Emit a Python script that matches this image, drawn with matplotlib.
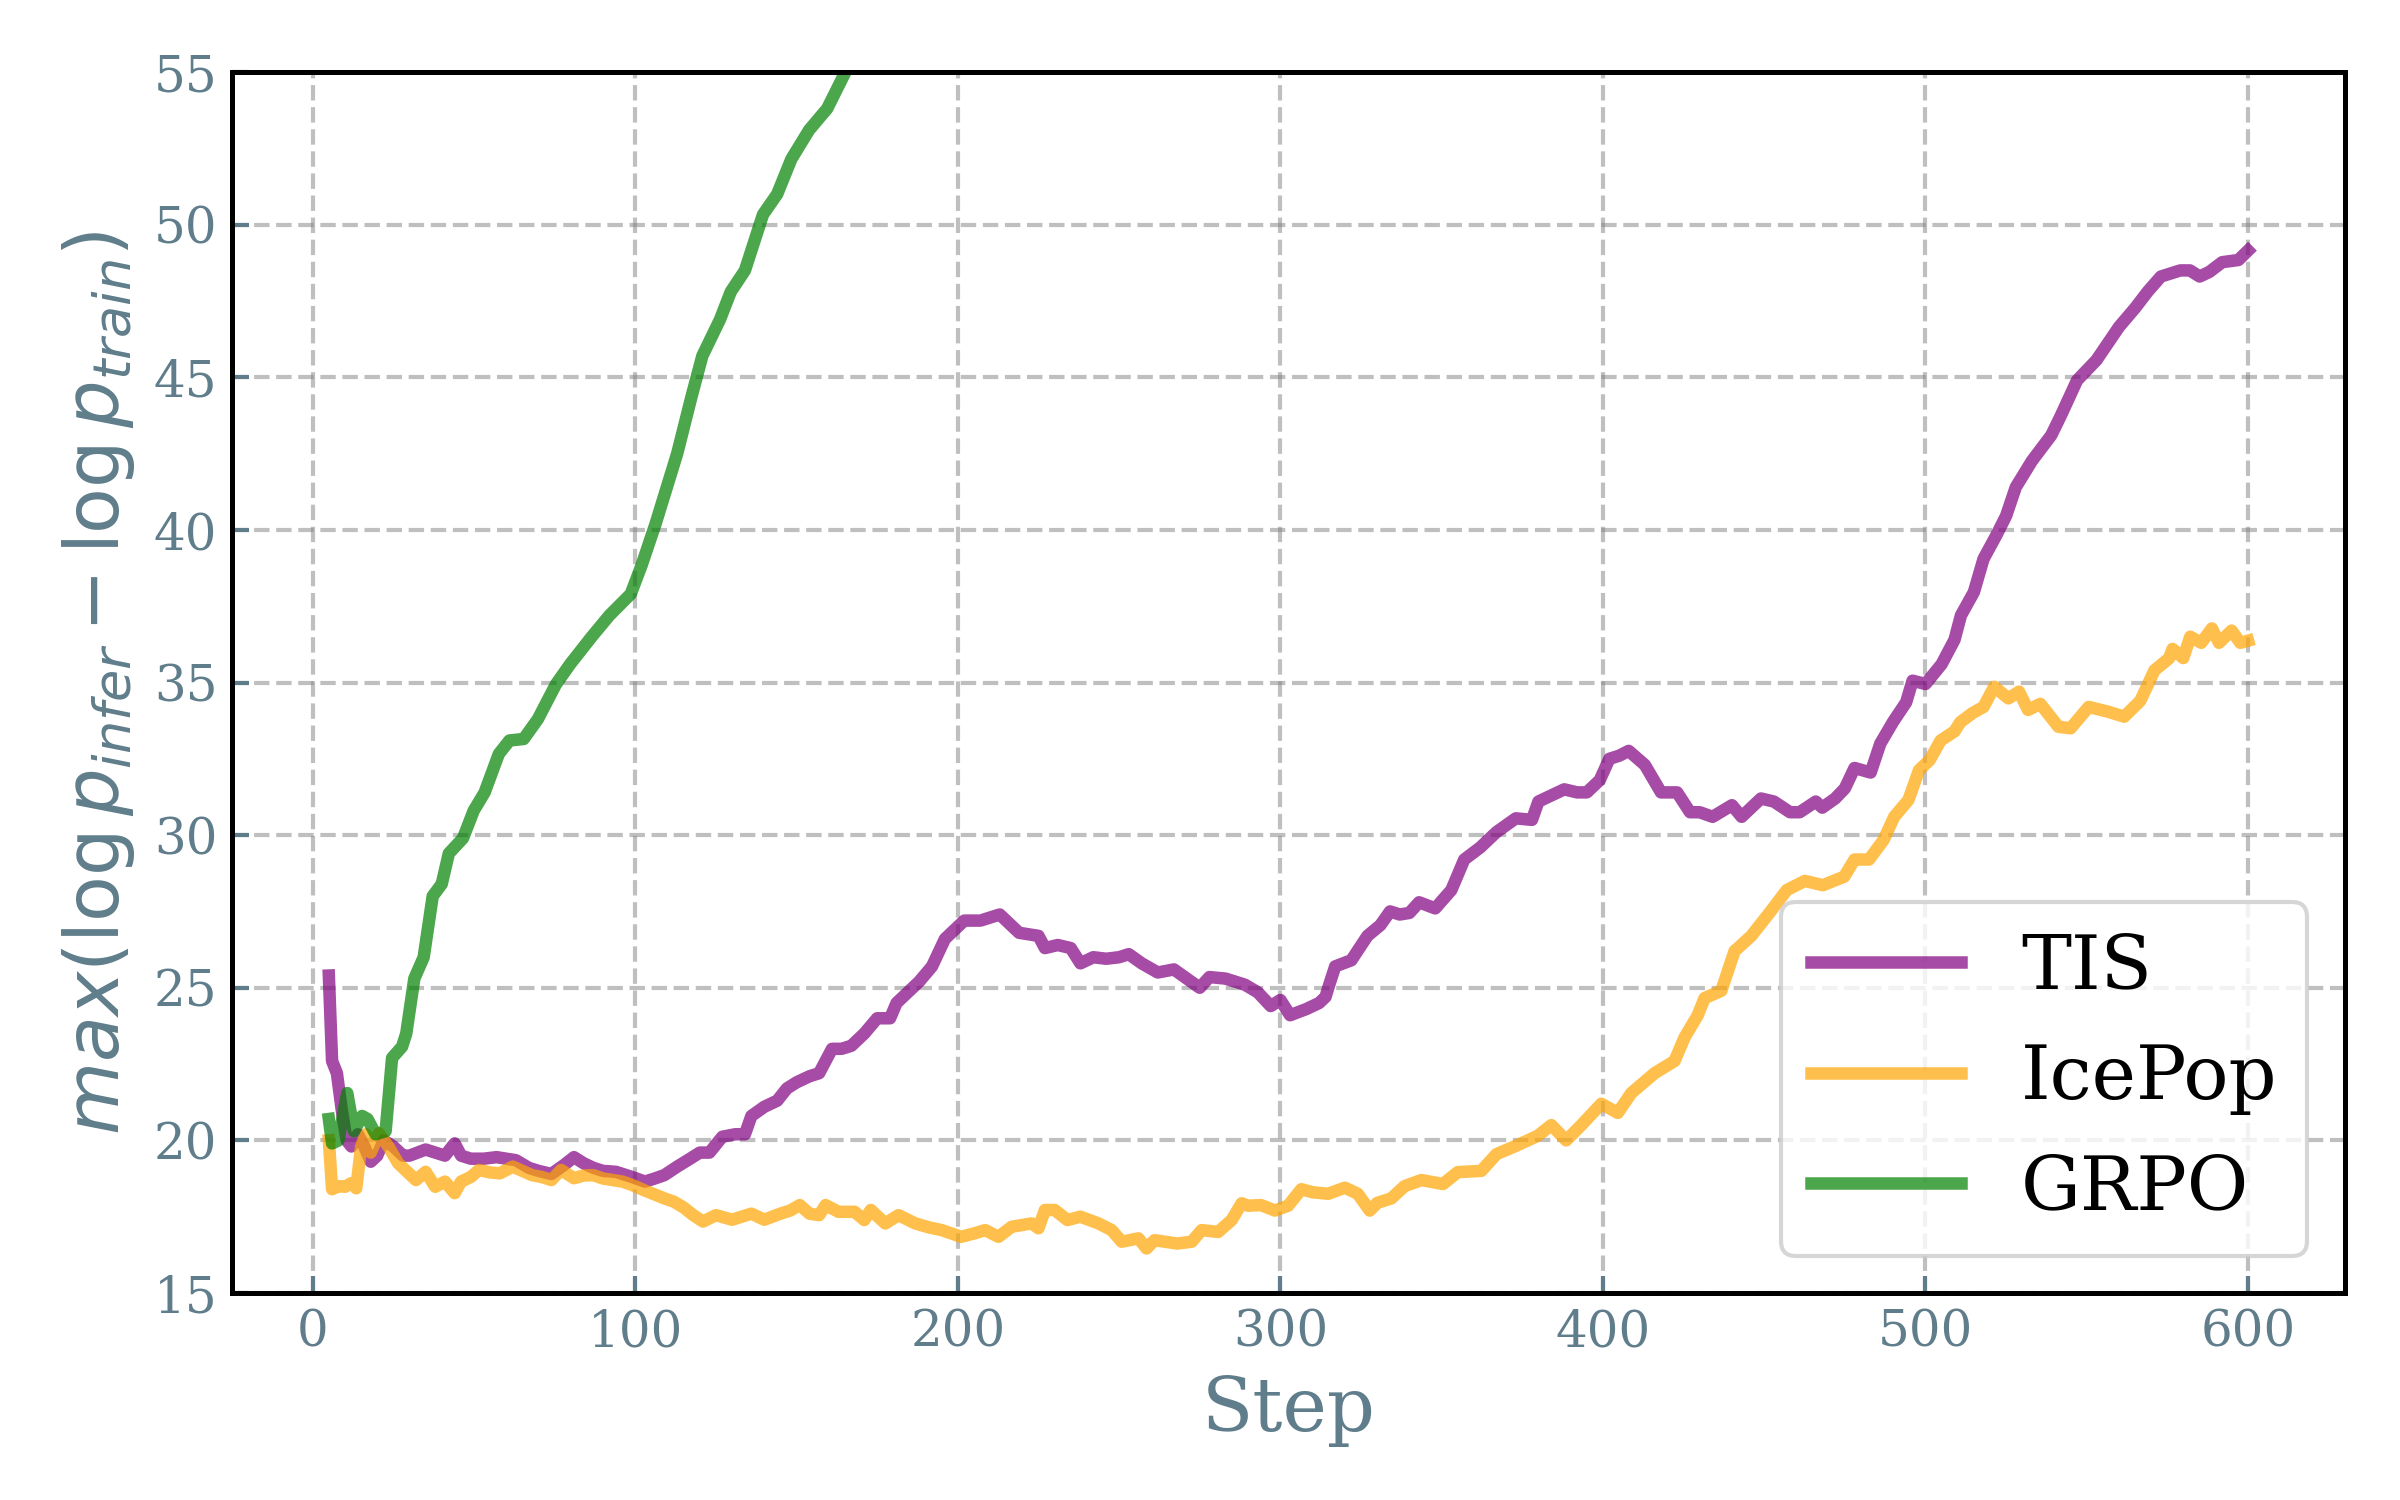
import matplotlib
matplotlib.use("Agg")
import matplotlib.pyplot as plt

# ---------------- data ----------------
tis_steps = [5, 6, 7.5, 9, 10.5, 12, 14, 16, 18, 20, 22, 25, 28, 30, 35, 38, 41, 44, 46, 49,
             53, 57, 60, 63, 67, 70, 74, 78, 81, 84, 87, 90, 94, 99, 103, 106, 109, 113, 117, 120,
             123, 127, 131, 134, 136, 140, 144, 147, 150, 154, 157, 159, 161, 164, 167, 171, 175, 179, 181, 185,
             188, 192, 196, 199, 202, 207, 210, 213, 216, 219, 225, 227, 231, 235, 238, 242, 246, 250, 253, 257,
             262, 267, 271, 275, 278, 283, 289, 293, 297, 300, 303, 308, 312, 314, 315, 317, 322, 327, 331, 334,
             337, 340, 343, 348, 353, 357, 362, 367, 373, 378, 380, 384, 388, 392, 395, 399, 402, 405, 408, 413,
             418, 423, 427, 430, 434, 440, 443, 449, 453, 458, 461, 466, 468, 472, 475, 478, 483, 486, 490, 494,
             496, 500, 505, 509, 511, 515, 518, 522, 525, 528, 533, 539, 542, 547, 553, 560, 565, 569, 573, 579,
             582, 585, 588, 592, 597, 600]
tis_vals = [25.4, 22.6, 22.2, 21.0, 20.0, 19.8, 20.2, 19.8, 19.3, 19.5, 20.0, 19.8, 19.5, 19.5, 19.7, 19.6, 19.5, 19.9, 19.5, 19.4,
            19.4, 19.45, 19.4, 19.35, 19.1, 19.0, 18.9, 19.2, 19.45, 19.25, 19.1, 19.0, 18.97, 18.8, 18.65, 18.75, 18.86, 19.14, 19.4, 19.6,
            19.6, 20.12, 20.2, 20.2, 20.8, 21.1, 21.3, 21.7, 21.9, 22.1, 22.2, 22.6, 23.0, 23.0, 23.1, 23.5, 24.0, 24.0, 24.5, 24.9,
            25.2, 25.7, 26.6, 26.9, 27.2, 27.2, 27.3, 27.4, 27.1, 26.8, 26.7, 26.3, 26.4, 26.3, 25.8, 26.0, 25.95, 26.0, 26.1, 25.8,
            25.5, 25.6, 25.3, 25.0, 25.35, 25.3, 25.1, 24.85, 24.4, 24.6, 24.1, 24.3, 24.5, 24.7, 25.05, 25.7, 25.9, 26.7, 27.05, 27.5,
            27.4, 27.45, 27.8, 27.6, 28.2, 29.2, 29.6, 30.1, 30.55, 30.5, 31.1, 31.3, 31.5, 31.4, 31.4, 31.8, 32.5, 32.6, 32.76, 32.3,
            31.4, 31.4, 30.75, 30.75, 30.6, 30.98, 30.6, 31.2, 31.1, 30.75, 30.75, 31.1, 30.9, 31.2, 31.53, 32.2, 32.05, 33.0, 33.72, 34.35,
            35.06, 34.95, 35.6, 36.4, 37.2, 37.96, 39.05, 39.83, 40.46, 41.4, 42.26, 43.1, 43.75, 44.9, 45.56, 46.65, 47.27, 47.82, 48.3, 48.5,
            48.5, 48.3, 48.45, 48.77, 48.84, 49.15]

icepop_steps = [5, 6, 8, 10, 12, 13.5, 15, 16.5, 18, 20.5, 23.5, 26.5, 29, 32, 35, 38, 41, 44, 46, 49,
                51.5, 55, 58, 62, 65, 68, 71, 74, 77, 81, 84, 87, 90, 93, 96, 99, 102, 105, 109, 112,
                115, 118, 121, 125, 130, 133, 136, 140, 145, 148, 151, 154, 157, 159, 163, 168, 171, 173, 177.5, 181.6,
                186.8, 191, 195, 201, 205, 208.5, 212.6, 216.7, 222.9, 225, 227, 230, 234, 238, 243.6, 247.7, 250.8, 256, 258.5, 261,
                268, 272.5, 275.6, 280.7, 284.9, 288, 290, 294, 298.3, 302.4, 306.5, 310, 314.8, 320, 324, 327.7, 330, 334.4, 338.5, 343.7,
                350.4, 355, 362.3, 367, 372.6, 379.8, 384, 388.6, 393.3, 399.5, 404.6, 408.8, 416, 422.2, 425.3, 429.4, 431.5, 436.7, 440.8, 446,
                451.6, 457, 462.6, 468.2, 474.8, 478, 482.5, 487, 490.3, 494.7, 498, 501.3, 504.7, 509, 510.8, 514.6, 518, 521.3, 525.7, 529,
                531.8, 535.6, 541.2, 545, 550.6, 556.7, 561.6, 566.6, 571, 575.5, 576.6, 579.9, 582.1, 585.5, 588.8, 591, 594.9, 597.6, 600]
icepop_vals = [20.0, 18.4, 18.5, 18.48, 18.6, 18.43, 19.8, 20.2, 19.6, 20.23, 19.79, 19.25, 19.0, 18.7, 18.97, 18.48, 18.65, 18.27, 18.65, 18.8,
               19.03, 18.95, 18.92, 19.14, 19.0, 18.86, 18.8, 18.7, 19.03, 18.76, 18.85, 18.86, 18.75, 18.7, 18.65, 18.54, 18.4, 18.27, 18.1, 17.99,
               17.8, 17.55, 17.34, 17.55, 17.4, 17.5, 17.6, 17.4, 17.6, 17.7, 17.88, 17.6, 17.55, 17.88, 17.66, 17.66, 17.39, 17.72, 17.28, 17.55,
               17.28, 17.15, 17.06, 16.84, 16.95, 17.06, 16.84, 17.17, 17.28, 17.12, 17.72, 17.72, 17.39, 17.5, 17.28, 17.06, 16.68, 16.79, 16.46, 16.73,
               16.62, 16.68, 17.06, 17.0, 17.39, 17.94, 17.86, 17.88, 17.7, 17.86, 18.4, 18.3, 18.25, 18.45, 18.25, 17.7, 17.95, 18.1, 18.5, 18.7,
               18.57, 18.96, 19.0, 19.55, 19.8, 20.15, 20.5, 20.0, 20.5, 21.2, 20.9, 21.55, 22.2, 22.6, 23.37, 24.1, 24.66, 24.9, 26.2, 26.7,
               27.45, 28.2, 28.5, 28.36, 28.64, 29.2, 29.2, 29.84, 30.6, 31.15, 32.13, 32.46, 33.1, 33.4, 33.7, 34.0, 34.2, 34.86, 34.48, 34.7,
               34.1, 34.3, 33.55, 33.5, 34.2, 34.04, 33.88, 34.4, 35.4, 35.79, 36.1, 35.8, 36.5, 36.3, 36.77, 36.3, 36.7, 36.3, 36.37]

grpo_steps = [5, 6, 8, 9, 10.7, 12.8, 15.3, 17, 19.5, 22.6, 24.6, 27.7, 29, 31.5, 34.4, 37.2, 40, 42.2, 46.6, 49.9,
              53.3, 57.7, 61, 65.4, 69.8, 75.4, 79.8, 86.5, 92, 98.6, 102, 106.3, 113, 117.4, 120.8, 126.3, 129.6, 134, 139.6, 144,
              148.4, 153.9, 159.5, 162.8, 166.1, 170]
grpo_vals = [20.7, 19.9, 20.0, 20.6, 21.55, 20.3, 20.8, 20.7, 20.2, 20.3, 22.7, 23.07, 23.5, 25.3, 26.0, 28.0, 28.4, 29.4, 29.9, 30.8,
             31.4, 32.66, 33.1, 33.15, 33.8, 34.94, 35.6, 36.5, 37.2, 37.9, 38.85, 40.2, 42.5, 44.35, 45.7, 46.9, 47.8, 48.5, 50.33, 51.0,
             52.15, 53.1, 53.8, 54.5, 55.2, 56.0]

series_labels = ["TIS", "IcePop", "GRPO"]
series_colors = ["purple", "orange", "green"]

x_ticks = [0, 100, 200, 300, 400, 500, 600]
y_ticks = [15, 20, 25, 30, 35, 40, 45, 50, 55]

# ---------------- plotting ----------------
label_color = "#607D8B"
plt.rcParams["font.family"] = ["DejaVu Serif"]
plt.rcParams["mathtext.fontset"] = "dejavusans"

fig = plt.figure(figsize=(8, 5), dpi=300)
ax = fig.add_axes([0.0967, 0.138, 0.8803, 0.814])

data = [(tis_steps, tis_vals), (icepop_steps, icepop_vals), (grpo_steps, grpo_vals)]
for (xs, ys), lab, col in zip(data, series_labels, series_colors):
    ax.plot(xs, ys, color=col, alpha=0.7, linewidth=3, label=lab)

ax.set_xlim(-25, 630)
ax.set_ylim(15, 55)
ax.set_xticks(x_ticks)
ax.set_yticks(y_ticks)
ax.grid(True, linestyle="--", color="gray", alpha=0.5, linewidth=1.0)
ax.set_axisbelow(True)

ax.tick_params(axis="both", direction="in", colors=label_color, labelsize=12,
               length=4, width=1, labelcolor=label_color)
for sp in ax.spines.values():
    sp.set_color("black")
    sp.set_linewidth(1.2)

ax.set_xlabel("Step", fontsize=18, color=label_color)
ax.set_ylabel(r"$max(\log p_{infer} - \log p_{train})$", fontsize=18, color=label_color)

leg = ax.legend(loc="lower right", fontsize=18)

fig.savefig("out.png", dpi=300)
